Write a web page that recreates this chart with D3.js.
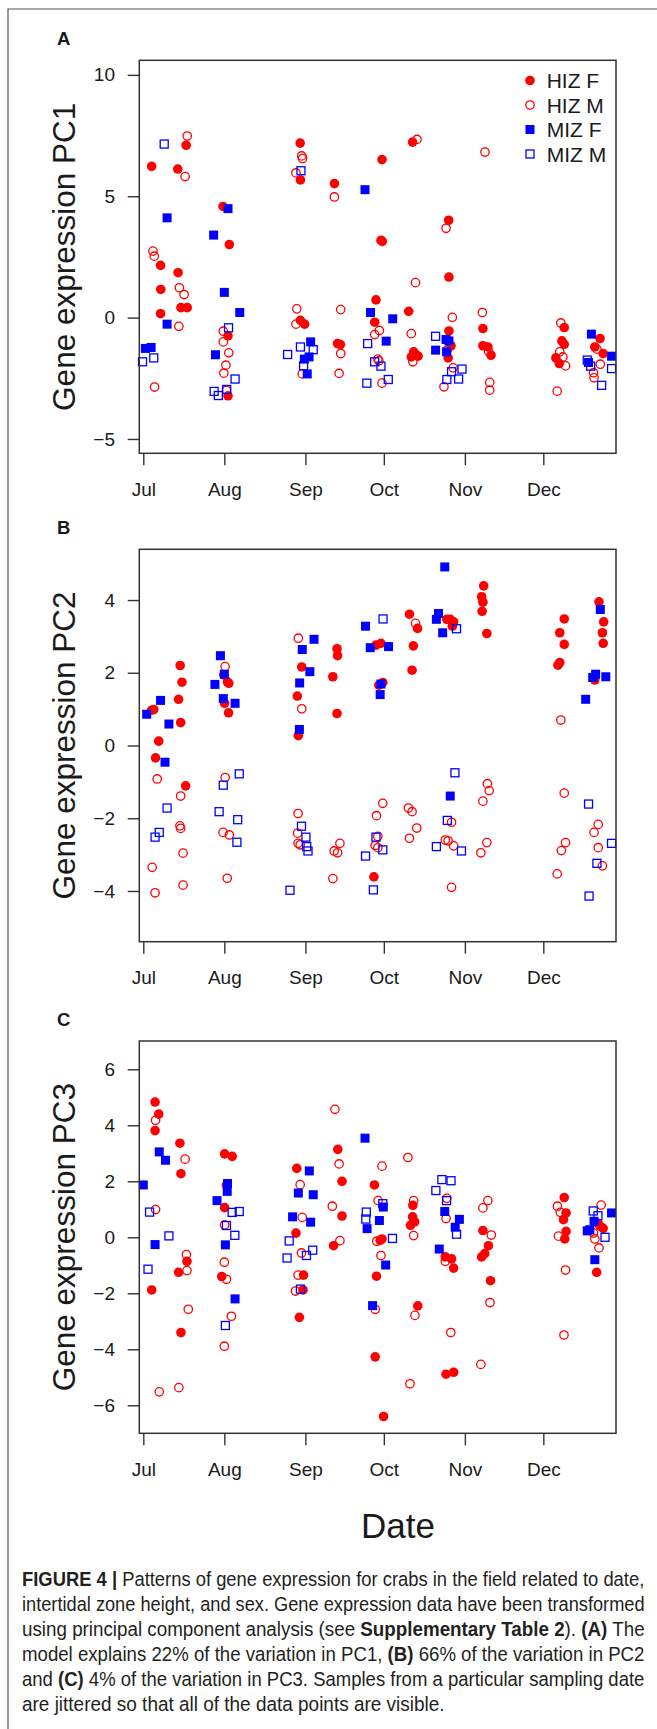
<!DOCTYPE html>
<html>
<head>
<meta charset="utf-8">
<script src="https://cdn.jsdelivr.net/npm/d3@7"></script>
<style>
  body { margin: 0; background: #fff; }
  svg { display: block; }
  text { font-family: "Liberation Sans", Arial, Helvetica, sans-serif; }
</style>
</head>
<body>
<div id="chart"></div>
<script>
// x values are days since 1 July (jittered sampling dates), y values are PC scores
var monthLabels = ["Jul", "Aug", "Sep", "Oct", "Nov", "Dec"];
var groupNames = ["HIZ F", "HIZ M", "MIZ F", "MIZ M"];

var pc1HizF = [[3.2,6.23],[13.2,6.12],[16.4,7.10],[30.5,4.58],[32.9,3.01],[60.0,7.19],[60.1,5.67],[73.1,5.52],
  [91.3,6.51],[90.9,3.18],[91.4,3.14],[103.0,7.23],[116.8,4.01],[6.6,2.15],[13.3,1.85],[6.7,1.16],[6.6,0.16],
  [14.4,0.41],[16.8,0.41],[32.4,-0.75],[32.4,-3.22],[60.1,-0.11],[61.7,-0.27],[74.3,-1.07],[75.4,-1.11],
  [89.0,0.73],[88.5,-0.19],[101.5,0.26],[103.4,-1.41],[104.1,-1.55],[102.5,-1.62],[105.1,-1.59],
  [116.9,1.67],[116.9,-0.55],[117.7,-1.16],[116.6,-1.66],[129.9,-0.45],[129.9,-1.16],[131.8,-1.21],[133.0,-1.55],
  [161.0,-0.41],[160.1,-0.96],[161.0,-1.10],[157.8,-1.66],[159.1,-1.89],[174.7,-0.86],[172.7,-1.21],[175.9,-1.48]];
var pc1HizM = [[16.0,5.81],[16.8,7.48],[3.7,2.74],[4.2,2.53],[60.6,6.66],[60.9,6.55],[58.4,5.96],[73.1,4.97],
  [104.7,7.34],[130.7,6.82],[115.8,3.68],[13.8,1.23],[15.6,0.95],[13.6,-0.36],[4.3,-2.86],
  [30.6,-0.56],[30.6,-1.00],[32.7,-1.45],[31.6,-1.96],[30.8,-2.29],[31.8,-2.99],[58.7,0.36],[58.4,-0.27],[60.8,-2.32],
  [75.5,0.33],[75.5,-1.48],[74.9,-2.30],[90.3,-0.53],[88.5,-0.70],[89.7,-1.71],[90.1,-1.78],[91.3,-2.70],
  [104.1,1.44],[102.5,-0.66],[104.2,-1.52],[103.1,-1.82],[118.2,0.01],[116.3,-1.34],[118.5,-2.07],[115.0,-2.85],
  [129.7,0.21],[132.0,-1.38],[132.5,-2.67],[132.5,-2.99],[159.7,-0.22],[159.3,-1.41],[160.5,-1.62],[161.5,-1.99],
  [158.3,-3.03],[173.5,-1.30],[174.8,-1.92],[172.2,-2.27],[172.4,-2.48]];
var pc1MizF = [[9.1,4.11],[26.9,3.40],[32.4,4.49],[84.8,5.27],[9.1,-0.27],[0.8,-1.27],[3.0,-1.23],
  [31.0,1.04],[36.9,0.21],[27.6,-1.53],[64.0,-1.00],[61.6,-1.71],[63.4,-1.62],[62.7,-2.32],
  [86.9,0.21],[92.9,-0.97],[95.4,-0.05],[115.8,-0.90],[116.9,-0.96],[111.8,-1.34],[116.0,-1.41],
  [171.4,-0.68],[179.1,-1.59],[170.3,-1.85]];
var pc1MizM = [[8.0,7.15],[60.3,6.05],[-0.3,-1.82],[4.0,-1.66],[32.6,-0.42],[35.1,-2.53],[27.1,-3.04],
  [28.7,-3.21],[31.9,-2.96],[60.1,-1.21],[65.0,-1.32],[55.2,-1.52],[61.3,-1.99],[85.8,-1.07],[88.5,-1.82],
  [90.9,-2.00],[93.7,-2.55],[85.5,-2.70],[111.8,-0.77],[117.9,-2.23],[121.9,-2.12],[116.1,-2.55],[120.6,-2.53],
  [169.8,-1.75],[171.1,-2.00],[179.1,-2.10],[175.3,-2.79]];

var pc2HizF = [[3.2,0.97],[4.0,0.99],[5.9,0.12],[4.7,-0.34],[14.1,2.20],[14.8,1.74],[13.5,1.27],[14.3,0.63],
  [16.2,-1.11],[30.8,1.94],[32.2,1.75],[32.7,1.71],[31.1,1.16],[32.6,0.90],[60.6,2.16],[58.9,1.36],[59.3,0.27],
  [74.1,2.66],[74.3,2.47],[72.5,1.89],[74.1,0.88],[89.0,2.76],[90.9,2.81],[90.1,1.66],[91.6,1.73],[88.2,-3.61],
  [101.8,3.61],[104.9,3.22],[103.3,2.74],[102.8,2.07],[116.1,3.47],[117.4,3.47],[118.7,3.40],[118.2,3.28],
  [130.2,4.39],[129.4,4.09],[129.9,3.94],[129.6,3.69],[131.4,3.08],[161.0,3.48],[159.3,3.10],[161.0,2.78],
  [159.3,2.28],[158.6,2.21],[174.3,3.95],[176.1,3.40],[175.6,3.10],[175.9,2.81],[172.7,1.80]];
var pc2HizM = [[5.3,-0.92],[14.3,-1.39],[14.0,-2.21],[14.3,-2.28],[15.2,-2.96],[3.4,-3.35],[15.2,-3.84],[4.5,-4.05],
  [31.3,2.17],[31.3,-0.88],[30.5,-2.39],[32.9,-2.46],[32.1,-3.65],[59.3,2.95],[60.6,1.01],[59.2,-1.87],
  [59.0,-2.41],[59.2,-2.69],[60.0,-2.73],[75.2,-2.69],[73.0,-2.90],[74.3,-2.95],[72.5,-3.66],
  [91.6,-1.59],[89.2,-1.93],[89.7,-2.50],[88.7,-2.75],[89.7,-2.81],[104.1,3.36],[101.4,-1.72],[102.8,-1.82],
  [104.6,-2.27],[101.8,-2.55],[117.9,-2.11],[115.5,-2.60],[116.6,-2.62],[118.7,-2.76],[117.9,-3.90],
  [131.6,-1.05],[132.3,-1.24],[129.9,-1.53],[131.4,-2.67],[129.1,-2.95],[159.7,0.70],[161.0,-1.31],
  [161.5,-2.67],[159.9,-2.89],[158.3,-3.53],[174.0,-2.17],[172.4,-2.39],[174.0,-2.81],[175.6,-3.31]];
var pc2MizF = [[1.3,0.86],[6.6,1.24],[9.8,0.59],[8.3,-0.46],[29.5,2.47],[31.0,1.96],[27.4,1.68],[30.6,1.29],
  [35.1,1.16],[65.3,2.92],[60.8,2.64],[63.7,2.03],[59.8,1.72],[59.7,0.44],[85.0,3.28],[86.8,2.69],[93.8,2.72],
  [90.9,1.69],[90.6,1.40],[115.3,4.91],[112.9,3.63],[112.1,3.47],[114.5,3.10],[117.4,-1.39],
  [174.8,3.74],[173.0,1.96],[171.9,1.87],[176.9,1.89],[169.2,1.27]];
var pc2MizM = [[9.1,-1.72],[6.1,-2.39],[4.5,-2.52],[36.7,-0.78],[30.6,-1.09],[29.0,-1.82],[36.1,-2.04],
  [35.8,-2.66],[60.5,-2.22],[62.2,-2.52],[62.5,-2.78],[63.0,-2.90],[56.1,-3.98],[91.7,3.48],[89.0,-2.52],
  [91.6,-2.87],[85.0,-3.04],[88.0,-3.97],[119.8,3.21],[119.2,-0.75],[116.3,-2.06],[112.1,-2.78],[121.7,-2.90],
  [170.3,-1.61],[179.1,-2.69],[173.5,-3.24],[170.5,-4.14]];

var pc3HizF = [[4.5,4.83],[5.9,4.40],[4.5,3.81],[14.0,3.36],[14.4,2.27],[16.7,-0.86],[13.5,-1.25],[3.2,-1.88],
  [14.4,-3.40],[31.1,2.98],[34.0,2.89],[31.1,1.06],[30.0,-1.40],[58.7,2.46],[58.4,0.15],[61.3,-1.35],
  [61.1,-1.88],[59.7,-2.86],[74.4,3.14],[76.0,2.00],[76.0,0.76],[72.8,-0.30],[88.4,1.87],[91.3,-0.06],
  [90.6,-0.11],[89.2,-1.39],[88.7,-4.27],[91.9,-6.40],[103.1,1.14],[103.0,0.73],[103.8,0.55],[102.2,0.43],
  [105.0,-2.45],[115.5,-0.70],[117.9,-0.77],[118.7,-1.10],[115.8,-4.89],[118.7,-4.82],[129.9,0.24],
  [132.0,-0.30],[130.6,-0.58],[129.4,-0.70],[132.8,-1.55],[161.0,1.42],[161.7,0.87],[160.7,0.63],
  [161.7,0.21],[161.2,-0.06],[174.0,0.49],[174.8,0.39],[175.9,0.32],[173.4,-1.25]];
var pc3HizM = [[4.7,4.18],[16.0,2.79],[4.7,0.99],[16.5,-0.62],[16.7,-1.19],[17.2,-2.57],[13.6,-5.37],[6.1,-5.52],
  [31.8,1.86],[31.1,0.44],[31.0,-0.89],[31.8,-1.50],[33.7,-2.82],[31.0,-3.89],[60.0,1.88],[60.8,0.71],
  [60.5,-0.56],[59.2,-1.35],[58.2,-1.92],[73.3,4.57],[74.9,2.62],[72.3,1.11],[75.2,-0.12],[91.3,2.54],
  [89.8,1.31],[89.3,-0.14],[90.9,-0.65],[88.7,-2.57],[101.2,2.85],[103.4,1.31],[103.4,0.06],[103.9,-2.79],
  [102.0,-5.23],[116.1,1.39],[115.8,0.67],[115.5,-0.86],[117.6,-3.40],[131.8,1.31],[129.9,1.05],[133.1,0.08],
  [132.6,-2.33],[129.1,-4.54],[158.4,1.11],[159.5,0.89],[158.8,0.04],[161.5,-1.17],[160.9,-3.49],
  [175.1,1.15],[172.2,0.15],[172.7,-0.06],[174.3,-0.38]];
var pc3MizF = [[6.1,3.05],[8.5,2.75],[0.0,1.87],[4.5,-0.26],[32.2,1.92],[32.1,1.64],[28.2,1.31],[31.4,-0.27],
  [35.1,-2.20],[63.5,2.37],[59.3,1.58],[65.0,1.52],[57.1,0.73],[64.0,0.54],[84.8,3.54],[91.8,1.08],[90.3,0.60],
  [85.6,0.31],[92.7,-0.99],[87.7,-2.44],[115.3,0.92],[120.9,0.64],[119.3,0.36],[113.2,-0.42],
  [179.1,0.87],[172.4,0.57],[169.8,0.23],[170.8,0.27],[172.7,-0.80]];
var pc3MizM = [[2.4,0.90],[9.8,0.05],[1.8,-1.14],[34.0,0.89],[36.7,0.92],[31.8,0.42],[35.0,0.07],[31.4,-3.15],
  [55.8,-0.13],[64.8,-0.46],[62.4,-0.65],[55.0,-0.74],[60.1,-1.85],[85.3,0.90],[85.1,0.65],[91.6,1.20],
  [95.3,-0.04],[114.2,2.06],[117.7,2.02],[111.9,1.67],[116.0,1.31],[119.8,0.11],[172.1,0.94],[173.9,0.77],[176.6,0.00]];

var pc1Ticks = [-5, 0, 5, 10];
var pc2Ticks = [-4, -2, 0, 2, 4];
var pc3Ticks = [-6, -4, -2, 0, 2, 4, 6];

var captionLines = [
  [["FIGURE 4 | ", true], ["Patterns of gene expression for crabs in the field related to date,", false]],
  [["intertidal zone height, and sex. Gene expression data have been transformed", false]],
  [["using principal component analysis (see ", false], ["Supplementary Table 2", true], ["). ", false], ["(A)", true], [" The", false]],
  [["model explains 22% of the variation in PC1, ", false], ["(B)", true], [" 66% of the variation in PC2", false]],
  [["and ", false], ["(C)", true], [" 4% of the variation in PC3. Samples from a particular sampling date", false]],
  [["are jittered so that all of the data points are visible.", false]]
];

var W = 657, H = 1729;
var left = 139.3, right = 616;
var red = "#ff0000", blue = "#0000ff", ink = "#1a1a1a";

var panels = [
  {label: "A", title: "Gene expression PC1", top: 60.3, bottom: 453.3, domain: [-5.59, 10.6], ticks: pc1Ticks,
   groups: [pc1HizF, pc1HizM, pc1MizF, pc1MizM], legend: true},
  {label: "B", title: "Gene expression PC2", top: 549.3, bottom: 941.7, domain: [-5.395, 5.395], ticks: pc2Ticks,
   groups: [pc2HizF, pc2HizM, pc2MizF, pc2MizM]},
  {label: "C", title: "Gene expression PC3", top: 1041, bottom: 1433.3, domain: [-7.0, 7.01], ticks: pc3Ticks,
   groups: [pc3HizF, pc3HizM, pc3MizF, pc3MizM]}
];

var jul1 = Date.UTC(2015, 6, 1);
function dayDate(d) { return new Date(jul1 + d * 864e5); }
var monthTicks = monthLabels.map(function(m, i) { return new Date(Date.UTC(2015, 6 + i, 1)); });

var x = d3.scaleUtc()
  .domain([dayDate(-1.53), dayDate(180.8)])
  .range([left, right]);

var svg = d3.select("#chart").append("svg")
  .attr("width", W).attr("height", H);

svg.append("rect").attr("width", W).attr("height", H).attr("fill", "#fff");

// frame lines round the figure
svg.append("path")
  .attr("d", "M8," + H + "V9H" + W)
  .attr("fill", "none").attr("stroke", "#555").attr("stroke-width", 1.2);

// one marker per group: filled circle, open circle, filled square, open square
function drawMarker(sel, g) {
  if (g === 0) {
    sel.append("circle").attr("r", 4.8).attr("fill", red);
  } else if (g === 1) {
    sel.append("circle").attr("r", 4.2).attr("fill", "none").attr("stroke", red).attr("stroke-width", 1.3);
  } else if (g === 2) {
    sel.append("rect").attr("x", -4.5).attr("y", -4.5).attr("width", 9).attr("height", 9).attr("fill", blue);
  } else {
    sel.append("rect").attr("x", -4).attr("y", -4).attr("width", 8).attr("height", 8)
      .attr("fill", "none").attr("stroke", blue).attr("stroke-width", 1.3);
  }
}

panels.forEach(function(p) {
  var y = d3.scaleLinear().domain(p.domain).range([p.bottom, p.top]);
  var g = svg.append("g");

  // x axis: month ticks hanging below the box
  var xa = g.append("g")
    .attr("transform", "translate(0," + p.bottom + ")")
    .call(d3.axisBottom(x).tickValues(monthTicks)
      .tickFormat(function(d, i) { return monthLabels[i]; })
      .tickSize(12).tickPadding(17));
  xa.select(".domain").remove();
  xa.selectAll("line").attr("stroke", "#333").attr("stroke-width", 1.4);
  xa.selectAll("text").attr("font-size", 19).attr("fill", ink)
    .style("font-family", '"Liberation Sans", Arial, sans-serif');

  var ya = g.append("g")
    .attr("transform", "translate(" + left + ",0)")
    .call(d3.axisLeft(y).tickValues(p.ticks).tickSize(11.6).tickPadding(12.7));
  ya.select(".domain").remove();
  ya.selectAll("line").attr("stroke", "#333").attr("stroke-width", 1.4);
  ya.selectAll("text").attr("font-size", 19).attr("fill", ink)
    .style("font-family", '"Liberation Sans", Arial, sans-serif');

  // points
  p.groups.forEach(function(data, gi) {
    g.append("g").selectAll("g").data(data).enter().append("g")
      .attr("transform", function(d) { return "translate(" + x(dayDate(d[0])) + "," + y(d[1]) + ")"; })
      .each(function() { drawMarker(d3.select(this), gi); });
  });

  // plot box
  g.append("rect")
    .attr("x", left).attr("y", p.top)
    .attr("width", right - left).attr("height", p.bottom - p.top)
    .attr("fill", "none").attr("stroke", "#333").attr("stroke-width", 1.5);

  g.append("text")
    .attr("x", 57).attr("y", p.top - 15)
    .attr("font-size", 18.5).attr("font-weight", "bold").attr("fill", ink)
    .text(p.label);

  g.append("text")
    .attr("transform", "translate(75," + ((p.top + p.bottom) / 2) + ") rotate(-90)")
    .attr("text-anchor", "middle").attr("font-size", 31.5).attr("fill", ink)
    .text(p.title);

  if (p.legend) {
    var lg = g.append("g");
    groupNames.forEach(function(name, i) {
      var row = lg.append("g").attr("transform", "translate(530," + (80.5 + i * 24.5) + ")");
      drawMarker(row, i);
      row.append("text").attr("x", 16.7).attr("y", 7.5)
        .attr("font-size", 21).attr("fill", ink).text(name);
    });
  }
});

svg.append("text")
  .attr("x", 398).attr("y", 1538)
  .attr("text-anchor", "middle").attr("font-size", 35).attr("fill", ink)
  .text("Date");

// caption: each line squeezed horizontally to the measured line width
var cap = svg.append("g").attr("fill", "#231f20");
captionLines.forEach(function(line, i) {
  var t = cap.append("text")
    .attr("x", 0).attr("y", 0)
    .attr("font-size", 19.5);
  line.forEach(function(seg) {
    t.append("tspan").attr("font-weight", seg[1] ? "bold" : "normal").text(seg[0]);
  });
  var target = i < 5 ? 623 : 423;
  var natural = t.node().getComputedTextLength();
  t.attr("transform", "translate(22," + (1586 + i * 24.9) + ") scale(" + (target / natural) + ",1)");
});
</script>
</body>
</html>
